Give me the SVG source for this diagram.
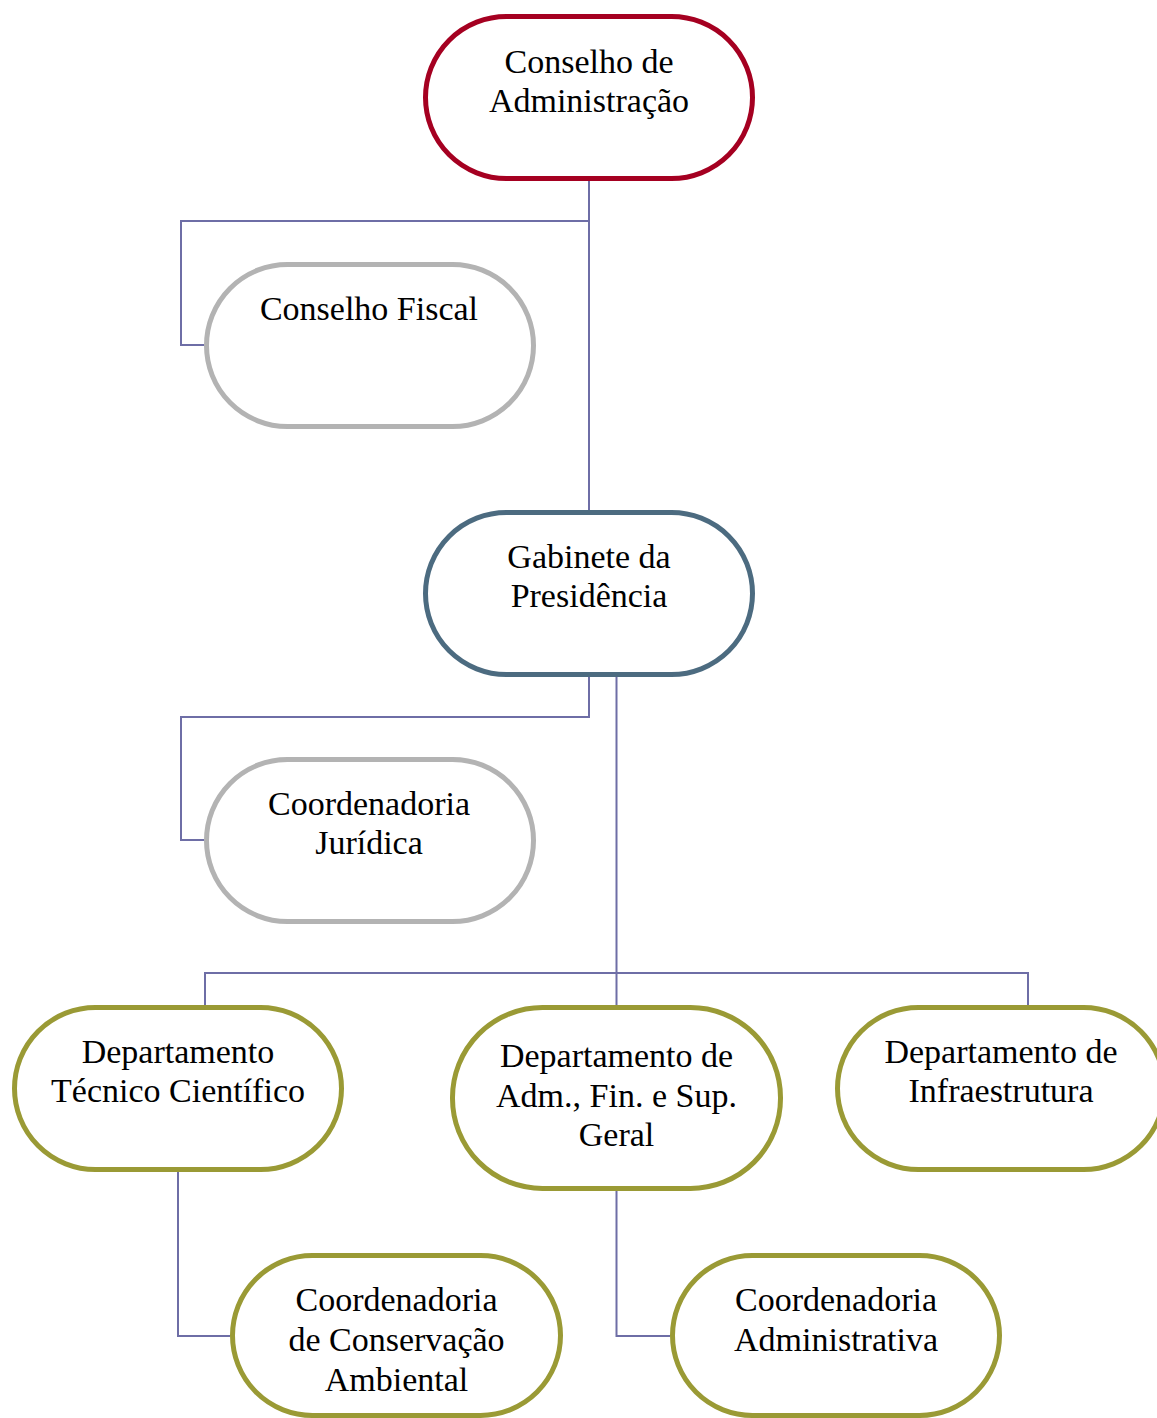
<svg xmlns="http://www.w3.org/2000/svg" width="1157" height="1418" viewBox="0 0 1157 1418">
<style>
.n{fill:#FFFFFF;stroke-width:5}
.red{stroke:#A50021}
.grey{stroke:#B3B3B3}
.slate{stroke:#4C6B80}
.olive{stroke:#9A9A35}
.c{fill:none;stroke:#6E6EA6;stroke-width:2}
text{font-family:"Liberation Serif","Times New Roman",serif;font-size:34px;fill:#000000;text-anchor:middle}
</style>
<rect x="0" y="0" width="1157" height="1418" fill="#FFFFFF"/>
<g id="connectors">
<path class="c" d="M589,181 V510"/>
<path class="c" d="M589,221 H181 V345 H204"/>
<path class="c" d="M589,676 V717 H181 V840 H204"/>
<path class="c" d="M616.5,676 V1005"/>
<path class="c" d="M205,1005 V973 H1028 V1005"/>
<path class="c" d="M178,1171 V1336 H230"/>
<path class="c" d="M616.5,1190 V1336 H670"/>
</g>
<g id="conselho-administracao">
<rect class="n red" x="425.5" y="16.5" width="327" height="162" rx="81"/>
<text x="589" y="73">Conselho de</text>
<text x="589" y="112">Administração</text>
</g>
<g id="conselho-fiscal">
<rect class="n grey" x="206.5" y="264.5" width="327" height="162" rx="81"/>
<text x="369" y="320">Conselho Fiscal</text>
</g>
<g id="gabinete-presidencia">
<rect class="n slate" x="425.5" y="512.5" width="327" height="162" rx="81"/>
<text x="589" y="568">Gabinete da</text>
<text x="589" y="607">Presidência</text>
</g>
<g id="coordenadoria-juridica">
<rect class="n grey" x="206.5" y="759.5" width="327" height="162" rx="81"/>
<text x="369" y="815">Coordenadoria</text>
<text x="369" y="854">Jurídica</text>
</g>
<g id="dep-tecnico-cientifico">
<rect class="n olive" x="14.5" y="1007.5" width="327" height="162" rx="81"/>
<text x="178" y="1063">Departamento</text>
<text x="178" y="1102">Técnico Científico</text>
</g>
<g id="dep-adm-fin">
<rect class="n olive" x="452.5" y="1007.5" width="328" height="181" rx="90"/>
<text x="616.5" y="1067">Departamento de</text>
<text x="616.5" y="1107">Adm., Fin. e Sup.</text>
<text x="616.5" y="1146">Geral</text>
</g>
<g id="dep-infraestrutura">
<rect class="n olive" x="837.5" y="1007.5" width="327" height="162" rx="81"/>
<text x="1001" y="1063">Departamento de</text>
<text x="1001" y="1102">Infraestrutura</text>
</g>
<g id="coord-conservacao-ambiental">
<rect class="n olive" x="232.5" y="1255.5" width="328" height="160" rx="80"/>
<text x="396.5" y="1311">Coordenadoria</text>
<text x="396.5" y="1351">de Conservação</text>
<text x="396.5" y="1391">Ambiental</text>
</g>
<g id="coord-administrativa">
<rect class="n olive" x="672.5" y="1255.5" width="327" height="160" rx="80"/>
<text x="836" y="1311">Coordenadoria</text>
<text x="836" y="1351">Administrativa</text>
</g>
</svg>
